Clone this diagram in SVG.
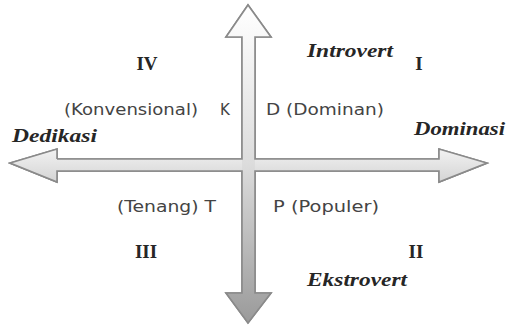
<svg xmlns="http://www.w3.org/2000/svg" width="511" height="325" viewBox="0 0 511 325">
  <defs>
    <linearGradient id="gv" x1="0" y1="0" x2="0" y2="1">
      <stop offset="0" stop-color="#ffffff"/>
      <stop offset="0.5" stop-color="#dcdcdc"/>
      <stop offset="1" stop-color="#9a9a9a"/>
    </linearGradient>
    <linearGradient id="gh" x1="0" y1="0" x2="0" y2="1">
      <stop offset="0" stop-color="#f2f2f2"/>
      <stop offset="1" stop-color="#d4d4d4"/>
    </linearGradient>
  </defs>
  <style>
    .ser { font-family: "Liberation Serif", "Times New Roman", serif; font-weight: bold; fill: #262626; }
    .it { font-style: italic; font-size: 19px; }
    .num { font-size: 19px; }
    .sans { font-family: "DejaVu Sans", Verdana, sans-serif; font-size: 15px; fill: #444; }
    .edge { fill: none; stroke: #8a8a8a; stroke-width: 1.6; stroke-linejoin: miter; }
  </style>
  <rect width="511" height="325" fill="#ffffff"/>
  <g id="connectors">
    <polygon points="10,164 57,150 57,160 439,160 439,150 487,164 439,183 439,172 57,172 57,183" fill="#c4c4c4"/>
    <polygon class="edge" points="248,5 271,37 255,37 255,293 271,293 248,323 226,293 242,293 242,37 226,37"/>
    <polygon class="edge" points="10,163 57,149 57,159 439,159 439,149 487,163 439,182 439,171 57,171 57,182"/>
    <polygon points="10,163 57,149 57,159 439,159 439,149 487,163 439,182 439,171 57,171 57,182" fill="url(#gh)"/>
    <polygon points="248,5 271,37 255,37 255,293 271,293 248,323 226,293 242,293 242,37 226,37" fill="url(#gv)"/>
    <polyline class="edge" points="57,159 242,159 242,37 226,37 248,5 271,37 255,37 255,159 439,159 439,149 487,163 439,182 439,171 255,171 255,293 271,293 248,323 226,293 242,293 242,171 57,171 57,182 10,163 57,149 57,159" stroke-width="1.2"/>
  </g>
  <g id="quadrant-IV"><text class="ser num" x="147" y="70" text-anchor="middle">IV</text></g>
  <g id="quadrant-I"><text class="ser num" x="419" y="70" text-anchor="middle">I</text></g>
  <g id="quadrant-III"><text class="ser num" x="146" y="258" text-anchor="middle">III</text></g>
  <g id="quadrant-II"><text class="ser num" x="416" y="258" text-anchor="middle">II</text></g>
  <g id="introvert"><text class="ser it" x="307" y="57" textLength="86" lengthAdjust="spacingAndGlyphs">Introvert</text></g>
  <g id="ekstrovert"><text class="ser it" x="307" y="286" textLength="100" lengthAdjust="spacingAndGlyphs">Ekstrovert</text></g>
  <g id="dedikasi"><text class="ser it" x="12" y="142" textLength="85" lengthAdjust="spacingAndGlyphs">Dedikasi</text></g>
  <g id="dominasi"><text class="ser it" x="414" y="135" textLength="91" lengthAdjust="spacingAndGlyphs">Dominasi</text></g>
  <g id="konvensional"><text class="sans" x="64" y="115" textLength="134" lengthAdjust="spacingAndGlyphs">(Konvensional)</text><text class="sans" x="220" y="115">K</text></g>
  <g id="dominan"><text class="sans" x="266" y="115" textLength="118" lengthAdjust="spacingAndGlyphs">D (Dominan)</text></g>
  <g id="tenang"><text class="sans" x="117" y="212" textLength="99" lengthAdjust="spacingAndGlyphs">(Tenang) T</text></g>
  <g id="populer"><text class="sans" x="273" y="212" textLength="106" lengthAdjust="spacingAndGlyphs">P (Populer)</text></g>
</svg>
